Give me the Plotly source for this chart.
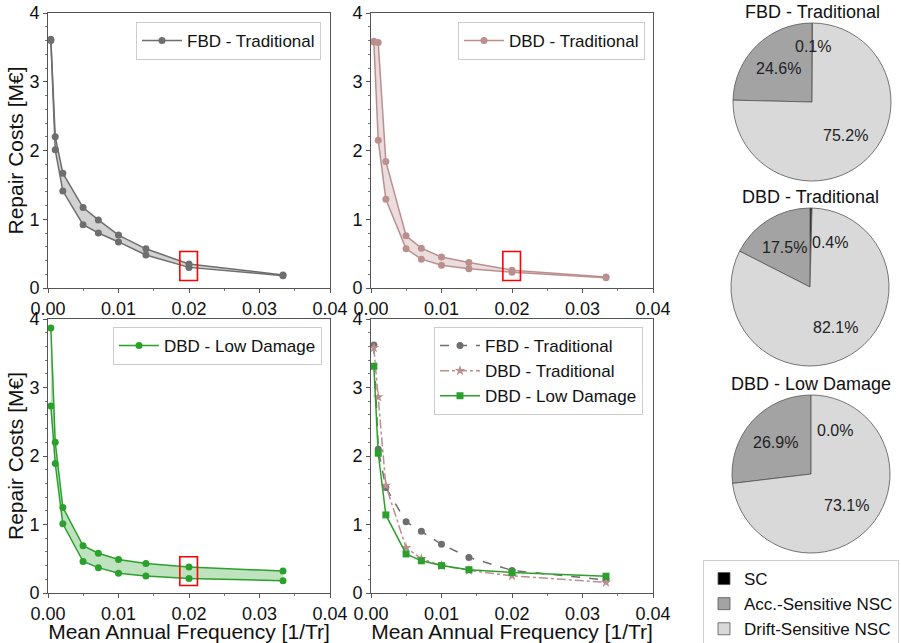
import math
import plotly.graph_objects as go

# ---------------- data ----------------
return_periods = [2475, 975, 475, 201, 140, 100, 72, 50, 30]
freq = [1.0 / tr for tr in return_periods]

fbd_upper = [3.62, 2.20, 1.67, 1.17, 0.99, 0.77, 0.57, 0.35, 0.19]
fbd_lower = [3.60, 2.01, 1.41, 0.92, 0.80, 0.67, 0.48, 0.30, 0.18]
dbd_upper = [3.59, 3.57, 1.84, 0.76, 0.58, 0.45, 0.37, 0.26, 0.16]
dbd_lower = [3.58, 2.15, 1.29, 0.57, 0.42, 0.33, 0.28, 0.23, 0.15]
ld_upper = [3.87, 2.20, 1.25, 0.69, 0.58, 0.49, 0.43, 0.38, 0.32]
ld_lower = [2.73, 1.89, 1.01, 0.46, 0.37, 0.29, 0.25, 0.21, 0.18]

fbd_mean = [3.62, 2.10, 1.54, 1.04, 0.90, 0.71, 0.52, 0.33, 0.19]
dbd_mean = [3.58, 2.86, 1.57, 0.66, 0.50, 0.40, 0.33, 0.25, 0.155]
ld_mean = [3.31, 2.04, 1.14, 0.57, 0.47, 0.40, 0.34, 0.30, 0.245]

design_names = ["FBD - Traditional", "DBD - Traditional", "DBD - Low Damage"]
pie_labels = ["SC", "Acc.-Sensitive NSC", "Drift-Sensitive NSC"]
sc_share = [0.1, 0.4, 0.0]
acc_share = [24.6, 17.5, 26.9]
drift_share = [75.2, 82.1, 73.1]

x_ticks = [0.00, 0.01, 0.02, 0.03, 0.04]
y_ticks = [0, 1, 2, 3, 4]

# ---------------- styles ----------------
W, H = 901, 643
FONT = "Liberation Sans, Arial, sans-serif"
GRAY = "#6e6e6e"
ROSY = "#bc8f8f"
GREEN = "#2ca02c"
FILLS = ["rgba(105,105,105,0.30)", "rgba(188,143,143,0.30)", "rgba(44,160,44,0.30)"]
COLORS = [GRAY, ROSY, GREEN]
PIE_COLORS = ["#000000", "#a3a3a3", "#d9d9d9"]


def px(x):
    return x / W


def py(y):
    return 1 - y / H


fig = go.Figure()

# panels: (x0,x1,y_top,y_bottom) in pixels
panels = [(48, 330, 13, 288), (371, 653, 13, 288), (48, 330, 319, 593), (371, 653, 319, 593)]

bands = [(fbd_upper, fbd_lower), (dbd_upper, dbd_lower), (ld_upper, ld_lower)]
for i, (up, lo) in enumerate(bands):
    ax = "" if i == 0 else str(i + 1)
    leg = "legend" if i == 0 else f"legend{i + 1}"
    fig.add_trace(go.Scatter(
        x=freq, y=up, mode="lines+markers", name=design_names[i],
        line=dict(color=COLORS[i], width=1.5), marker=dict(color=COLORS[i], size=7),
        xaxis="x" + ax, yaxis="y" + ax, legend=leg, cliponaxis=False, showlegend=True))
    fig.add_trace(go.Scatter(
        x=freq, y=lo, mode="lines+markers", name=design_names[i],
        line=dict(color=COLORS[i], width=1.5), marker=dict(color=COLORS[i], size=7),
        fill="tonexty", fillcolor=FILLS[i],
        xaxis="x" + ax, yaxis="y" + ax, legend=leg, cliponaxis=False, showlegend=False))

means = [(fbd_mean, "dash", "circle", 7), (dbd_mean, "dashdot", "star", 8), (ld_mean, "solid", "square", 7)]
for i, (m, dash, sym, sz) in enumerate(means):
    fig.add_trace(go.Scatter(
        x=freq, y=m, mode="lines+markers", name=design_names[i],
        line=dict(color=COLORS[i], width=1.5, dash=dash),
        marker=dict(color=COLORS[i], size=sz, symbol=sym),
        xaxis="x4", yaxis="y4", legend="legend4", cliponaxis=False))

# pies
pie_geo = [(812, 102), (810, 287), (811, 474)]
R = 79
for k in range(3):
    cx, cy = pie_geo[k]
    fig.add_trace(go.Pie(
        labels=pie_labels, values=[sc_share[k], acc_share[k], drift_share[k]],
        sort=False, direction="counterclockwise", rotation=0,
        marker=dict(colors=PIE_COLORS, line=dict(color="#555555", width=0.8)),
        textinfo="none", hoverinfo="label+percent",
        domain=dict(x=[px(cx - R), px(cx + R)], y=[py(cy + R), py(cy - R)]),
        legend="legend5", showlegend=True))

annotations = []
sc_offsets = [(1, -55), (20, -45), (24, -44)]
for k in range(3):
    cx, cy = pie_geo[k]
    vals = [sc_share[k], acc_share[k], drift_share[k]]
    total = sum(vals)
    start = 90.0
    for j, v in enumerate(vals):
        span = 360.0 * v / total
        mid = math.radians(start + span / 2)
        start += span
        if j == 0:
            tx, ty = cx + sc_offsets[k][0], cy + sc_offsets[k][1]
        else:
            tx = cx + 0.6 * R * math.cos(mid)
            ty = cy - 0.6 * R * math.sin(mid)
        annotations.append(dict(x=px(tx), y=py(ty), xref="paper", yref="paper",
                                xanchor="center", yanchor="middle",
                                text=f"{v:.1f}%", showarrow=False,
                                font=dict(size=16, color="#222222", family=FONT)))
    annotations.append(dict(x=px(cx), y=py(cy - R - 11), xref="paper", yref="paper",
                            text=design_names[k], showarrow=False,
                            xanchor="center", yanchor="middle",
                            font=dict(size=18, color="#111111", family=FONT)))

layout = dict(
    width=W, height=H, margin=dict(l=0, r=0, t=0, b=0, autoexpand=False),
    paper_bgcolor="white", plot_bgcolor="white",
    font=dict(family=FONT, color="#111111"),
    annotations=annotations, hovermode="closest",
)

for i, (x0, x1, yt, yb) in enumerate(panels):
    ax = "" if i == 0 else str(i + 1)
    common = dict(showline=True, linecolor="#555555", linewidth=1, mirror=True,
                  ticks="outside", ticklen=4, tickcolor="#555555",
                  tickfont=dict(size=18, color="#111111", family=FONT),
                  showgrid=False, zeroline=False, automargin=False)
    xa = dict(common, domain=[px(x0), px(x1)], range=[0, 0.04], tickvals=x_ticks,
              ticktext=[f"{t:.2f}" for t in x_ticks], anchor="y" + ax,
              minor=dict(tickvals=[0.005, 0.015, 0.025, 0.035], ticks="outside", ticklen=2,
                         tickcolor="#777777"))
    ya = dict(common, domain=[py(yb), py(yt)], range=[0, 4], tickvals=y_ticks,
              anchor="x" + ax,
              minor=dict(dtick=0.2, ticks="outside", ticklen=2, tickcolor="#777777"))
    if i in (2, 3):
        xa["title"] = dict(text="Mean Annual Frequency [1/Tr]", font=dict(size=21, family=FONT),
                           standoff=0)
    if i in (0, 2):
        ya["title"] = dict(text="Repair Costs [M€]", font=dict(size=21, family=FONT), standoff=0)
    layout["xaxis" + ax] = xa
    layout["yaxis" + ax] = ya

legend_boxes = [(321, 22), (645, 22), (322, 327), (643, 327)]
for i, (xr, yt) in enumerate(legend_boxes):
    key = "legend" if i == 0 else f"legend{i + 1}"
    layout[key] = dict(x=px(xr), y=py(yt), xanchor="right", yanchor="top",
                       bgcolor="white", bordercolor="#cccccc", borderwidth=1,
                       font=dict(size=17, family=FONT, color="#111111"),
                       itemwidth=40, tracegroupgap=0)
layout["legend5"] = dict(x=px(899), y=py(560), xanchor="right", yanchor="top",
                         bgcolor="white", bordercolor="#cccccc", borderwidth=1,
                         font=dict(size=17, family=FONT, color="#111111"), tracegroupgap=0)

fig.update_layout(**layout)

# highlight boxes around the 0.02 frequency points
for ax in ["", "2", "3"]:
    fig.add_shape(type="rect", xref="x" + ax, yref="y" + ax,
                  x0=0.0187, x1=0.0212, y0=0.11, y1=0.53,
                  line=dict(color="red", width=1.6), fillcolor="rgba(0,0,0,0)")

fig.write_html("out.html", config={"displayModeBar": False},
               post_script="document.body.style.margin='0';document.body.style.overflow='hidden';")
